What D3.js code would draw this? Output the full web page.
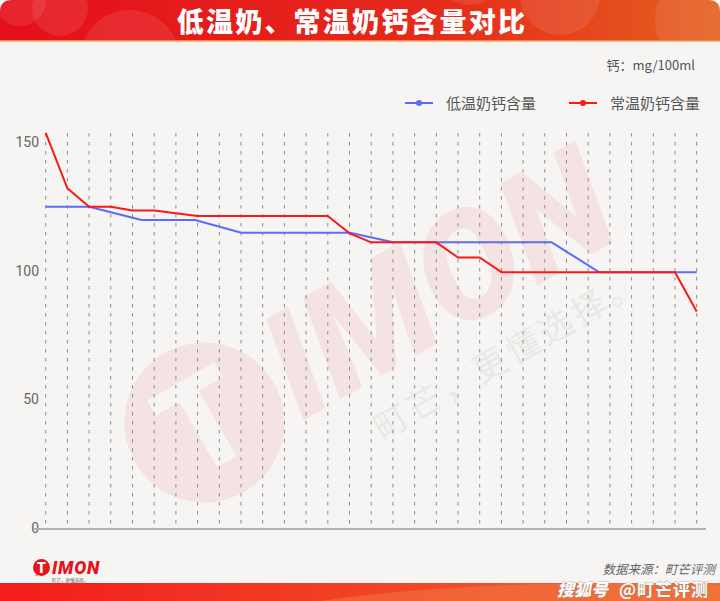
<!DOCTYPE html>
<html><head><meta charset="utf-8">
<script src="https://cdn.jsdelivr.net/npm/d3@7/dist/d3.min.js"></script>
<style>
html,body{margin:0;padding:0;background:#f6f5f3;}
svg{display:block;font-family:"Noto Sans CJK SC","Noto Sans",sans-serif;}
</style></head>
<body><svg id="c" width="720" height="601"></svg>
<script>
// ---- data ----
const title = "低温奶、常温奶钙含量对比";
const unitLabel = "钙：mg/100ml";
const seriesNames = ["低温奶钙含量", "常温奶钙含量"];
const categories = d3.range(1, 32); // 31 products (gridlines)
// 常温奶 (red) values at each category
const redValues = [153.9, 132.4, 125.2, 125.2, 123.8, 123.8, 122.7, 121.6, 121.6, 121.6,
  121.6, 121.6, 121.6, 121.6, 114.9, 111.4, 111.4, 111.4, 111.4, 105.5,
  105.5, 99.8, 99.8, 99.8, 99.8, 99.8, 99.8, 99.8, 99.8, 99.8, 84.5];
// 低温奶 (blue): vertex positions (category index units) and values
const blueX = [0, 2, 4.42, 6.88, 9.02, 14.02, 16.02, 23.32, 25.5, 30];
const blueValues = [125.2, 125.2, 120.1, 120.1, 115.1, 115.1, 111.4, 111.4, 99.8, 99.8];
const yTicks = [0, 50, 100, 150];
const sourceText = "数据来源：町芒评测";

// ---- drawing ----
const svg = d3.select("#c");
const W = 720, H = 601;
const defs = svg.append("defs");

const g1 = defs.append("linearGradient").attr("id", "topG").attr("x1", 0).attr("x2", 1);
g1.append("stop").attr("offset", 0).attr("stop-color", "#e50f1a");
g1.append("stop").attr("offset", 0.6).attr("stop-color", "#e52a1c");
g1.append("stop").attr("offset", 1).attr("stop-color", "#e4601f");
const g2 = defs.append("linearGradient").attr("id", "botG").attr("x1", 0).attr("x2", 1);
g2.append("stop").attr("offset", 0).attr("stop-color", "#f41c1c");
g2.append("stop").attr("offset", 0.6).attr("stop-color", "#f04a26");
g2.append("stop").attr("offset", 1).attr("stop-color", "#ee6a30");

svg.append("rect").attr("width", W).attr("height", H).attr("fill", "#f6f5f3");

// title bar
const clip = defs.append("clipPath").attr("id", "topClip");
clip.append("path").attr("d", "M0,41 L0,12 Q0,0 12,0 L708,0 Q720,0 720,12 L720,41 Z");
const header = svg.append("g").attr("clip-path", "url(#topClip)");
header.append("rect").attr("width", W).attr("height", 41).attr("fill", "url(#topG)");
[[20, 0, 26], [60, 8, 28], [130, 60, 50], [560, -5, 40], [700, 20, 45], [470, -30, 35]].forEach(c => {
  header.append("circle").attr("cx", c[0]).attr("cy", c[1]).attr("r", c[2])
    .attr("fill", "#ffffff").attr("opacity", 0.09);
});
svg.append("rect").attr("y", 40).attr("width", W).attr("height", 1.5).attr("fill", "#f08a3a");
svg.append("text").attr("x", 352).attr("y", 32).attr("text-anchor", "middle")
  .attr("fill", "#fff").attr("font-size", 27).attr("font-weight", 900)
  .attr("letter-spacing", 2.2).text(title);

// watermark
const wm = svg.append("g").attr("transform", "translate(330,350) rotate(-30)").attr("opacity", 0.075);
wm.append("circle").attr("cx", -145).attr("cy", 0).attr("r", 80).attr("fill", "#e8141b");
wm.append("text").attr("x", -145).attr("y", 45).attr("text-anchor", "middle")
  .attr("font-size", 130).attr("font-weight", 900).attr("fill", "#f6f5f3")
  .attr("font-family", "Roboto, sans-serif").text("T");
wm.append("text").attr("x", -60).attr("y", 48).attr("font-size", 150).attr("font-weight", 900)
  .attr("font-style", "italic").attr("fill", "#e8141b").attr("font-family", "Roboto, sans-serif")
  .text("IMON");
wm.append("text").attr("x", 0).attr("y", 105).attr("font-size", 34).attr("fill", "#555")
  .attr("letter-spacing", 4).text("町芒，更懂选择。");

// scales
const x = d3.scaleLinear().domain([0, categories.length - 1]).range([45.7, 696.7]);
const y = d3.scaleLinear().domain([0, 150]).range([529, 143]);

// dashed gridlines
svg.append("g").selectAll("line").data(categories).join("line")
  .attr("x1", (d, i) => x(i)).attr("x2", (d, i) => x(i))
  .attr("y1", 133).attr("y2", 528)
  .attr("stroke", "#8c8c8c").attr("stroke-width", 1).attr("stroke-dasharray", "3.5,5.5");

// y axis labels
const yAxis = d3.axisLeft(y).tickValues(yTicks).tickSize(0).tickPadding(0);
const ya = svg.append("g").attr("transform", "translate(39,-1)").call(yAxis);
ya.select(".domain").remove();
ya.selectAll("text").attr("font-size", 14).attr("fill", "#666").attr("font-family", "Roboto, 'Noto Sans', sans-serif");

// x axis line
svg.append("line").attr("x1", 33).attr("x2", 706).attr("y1", 529).attr("y2", 529)
  .attr("stroke", "#b2b2b2").attr("stroke-width", 2);

// lines
const redLine = d3.line().x((d, i) => x(i)).y(d => y(d));
const bluePts = blueX.map((bx, i) => [bx, blueValues[i]]);
const blueLine = d3.line().x(d => x(d[0])).y(d => y(d[1]));
svg.append("path").datum(bluePts).attr("d", blueLine)
  .attr("fill", "none").attr("stroke", "#5b6cf8").attr("stroke-width", 2).attr("stroke-linejoin", "round");
svg.append("path").datum(redValues).attr("d", redLine)
  .attr("fill", "none").attr("stroke", "#fa1818").attr("stroke-width", 2).attr("stroke-linejoin", "round");

// unit label
svg.append("text").attr("x", 695).attr("y", 70).attr("text-anchor", "end")
  .attr("font-size", 13).attr("fill", "#555").text(unitLabel);

// legend
const legColors = ["#5b6cf8", "#fa1818"];
const legX = [405, 569];
seriesNames.forEach((n, i) => {
  const lg = svg.append("g").attr("transform", `translate(${legX[i]},103)`);
  lg.append("line").attr("x1", 0).attr("x2", 28).attr("stroke", legColors[i]).attr("stroke-width", 2);
  lg.append("circle").attr("cx", 14).attr("r", 3).attr("fill", legColors[i]);
  lg.append("text").attr("x", 41).attr("y", 5.5).attr("font-size", 15).attr("fill", "#555").text(n);
});

// footer logo
const logo = svg.append("g").attr("transform", "translate(33,559)");
logo.append("circle").attr("cx", 8.5).attr("cy", 8.5).attr("r", 8.5).attr("fill", "#e8141b");
logo.append("path").attr("d", "M2,17 L6,13 L9,15 Z").attr("fill", "#e8141b");
logo.append("text").attr("x", 8.5).attr("y", 14).attr("text-anchor", "middle").attr("font-size", 14)
  .attr("font-weight", 900).attr("fill", "#fff").attr("font-family", "Roboto, sans-serif").text("T");
logo.append("text").attr("x", 19).attr("y", 14.5).attr("font-size", 18).attr("font-weight", 900)
  .attr("font-style", "italic").attr("letter-spacing", 0.8).attr("fill", "#e8141b")
  .attr("font-family", "Roboto, sans-serif").text("IMON");
logo.append("text").attr("x", 19).attr("y", 23).attr("font-size", 4.5).attr("fill", "#666").text("町芒，更懂选择。");

// source
svg.append("text").attr("x", 715).attr("y", 574).attr("text-anchor", "end")
  .attr("font-size", 12.5).attr("font-style", "italic").attr("fill", "#666").text(sourceText);

// bottom bar
svg.append("rect").attr("y", 583).attr("width", W).attr("height", 18).attr("fill", "url(#botG)");
svg.append("path").attr("d", "M320,601 Q480,578 720,585 L720,601 Z").attr("fill", "#f47a45").attr("opacity", 0.5);
svg.append("text").attr("x", 557).attr("y", 596).attr("font-size", 17).attr("font-weight", 900)
  .attr("font-style", "italic").attr("fill", "#fff").attr("opacity", 0.95)
  .attr("style", "paint-order:stroke").attr("stroke", "#888").attr("stroke-width", 0.6)
  .text("搜狐号");
svg.append("text").attr("x", 619).attr("y", 596).attr("font-size", 17).attr("font-weight", 700)
  .attr("fill", "#fff").attr("opacity", 0.95).attr("letter-spacing", 1)
  .attr("style", "paint-order:stroke").attr("stroke", "#888").attr("stroke-width", 0.6)
  .text("@町芒评测");
</script></body></html>
